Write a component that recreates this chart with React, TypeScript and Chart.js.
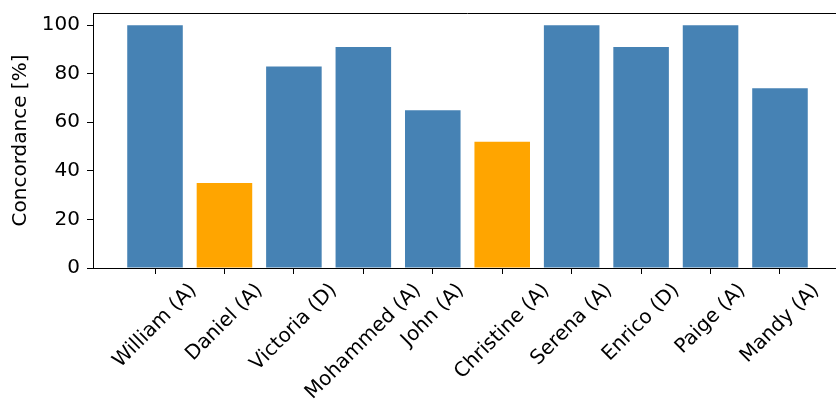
import React, { useEffect, useRef } from "react";
import { Chart, registerables } from "chart.js";

Chart.register(...registerables);

const categories = [
  "William (A)",
  "Daniel (A)",
  "Victoria (D)",
  "Mohammed (A)",
  "John (A)",
  "Christine (A)",
  "Serena (A)",
  "Enrico (D)",
  "Paige (A)",
  "Mandy (A)",
];
const concordance = [100, 35, 83, 91, 65, 52, 100, 91, 100, 74];
const highlighted = [false, true, false, false, false, true, false, false, false, false];
const yTicks = [0, 20, 40, 60, 80, 100];
const yLabel = "Concordance [%]";

const BLUE = "#4682B4";
const ORANGE = "#FFA500";
const FONT = '"DejaVu Sans", sans-serif';
const FONT_SIZE = 20;

export default function App() {
  const ref = useRef<HTMLCanvasElement | null>(null);

  useEffect(() => {
    if (!ref.current) return;
    const labelPlugin = {
      id: "customLabels",
      afterDraw(chart: any) {
        const ctx = chart.ctx;
        const area = chart.chartArea;
        const xs = chart.scales.x;
        ctx.save();
        // top spine
        ctx.strokeStyle = "#000";
        ctx.lineWidth = 1;
        ctx.beginPath();
        ctx.moveTo(area.left, Math.round(area.top) + 0.5);
        ctx.lineTo(area.right, Math.round(area.top) + 0.5);
        ctx.stroke();
        // rotated x labels, centered on tick like matplotlib (ha=center)
        ctx.font = `${FONT_SIZE}px ${FONT}`;
        ctx.fillStyle = "#000";
        ctx.textAlign = "center";
        ctx.textBaseline = "middle";
        const h = FONT_SIZE * 1.166;
        const top = area.bottom + 11;
        categories.forEach((lab, i) => {
          const x = xs.getPixelForValue(i);
          const w = ctx.measureText(lab).width;
          const s = (w + h) * Math.SQRT1_2;
          ctx.save();
          ctx.translate(x, top + s / 2);
          ctx.rotate(-Math.PI / 4);
          ctx.fillText(lab, 0, 0);
          ctx.restore();
        });
        ctx.restore();
      },
    };

    const chart = new Chart(ref.current, {
      type: "bar",
      data: {
        datasets: [
          {
            data: concordance.map((v, i) => ({ x: i, y: v })),
            backgroundColor: highlighted.map((h) => (h ? ORANGE : BLUE)),
            borderWidth: 0,
            barPercentage: 0.8,
            categoryPercentage: 1.0,
          },
        ],
      },
      options: {
        animation: false,
        responsive: false,
        maintainAspectRatio: false,
        layout: { padding: { left: 0, top: 13, right: 8, bottom: 0 } },
        plugins: { legend: { display: false }, tooltip: { enabled: false } },
        scales: {
          x: {
            type: "linear",
            offset: false,
            min: -0.893,
            max: categories.length - 1 + 0.893,
            afterBuildTicks: (scale: any) => {
              scale.ticks = categories.map((_, i) => ({ value: i }));
            },
            afterFit: (scale: any) => {
              scale.height = 132;
              scale.paddingLeft = 0;
              scale.paddingRight = 0;
            },
            ticks: { display: false },
            grid: {
              display: true,
              offset: false,
              drawOnChartArea: false,
              drawTicks: true,
              tickLength: 6,
              tickColor: "#000",
              tickWidth: 1,
            },
            border: { display: true, color: "#000", width: 1 },
          },
          y: {
            type: "linear",
            min: 0,
            max: 105,
            afterBuildTicks: (scale: any) => {
              scale.ticks = yTicks.map((v) => ({ value: v }));
            },
            afterFit: (scale: any) => {
              scale.width = 93;
              scale.paddingTop = 0;
              scale.paddingBottom = 0;
            },
            ticks: {
              color: "#000",
              font: { family: FONT, size: FONT_SIZE },
              padding: 7,
            },
            grid: {
              display: true,
              drawOnChartArea: false,
              drawTicks: true,
              tickLength: 6,
              tickColor: "#000",
              tickWidth: 1,
            },
            border: { display: true, color: "#000", width: 1 },
            title: {
              display: true,
              text: yLabel,
              color: "#000",
              font: { family: FONT, size: FONT_SIZE, lineHeight: 1.2 },
              padding: { top: 9, bottom: 0 },
            },
          },
        },
      },
      plugins: [labelPlugin],
    } as any);
    return () => chart.destroy();
  }, []);

  return (
    <div
      style={{
        position: "fixed",
        left: 0,
        top: 0,
        width: 836,
        height: 400,
        overflow: "hidden",
        background: "#fff",
      }}
    >
      <canvas ref={ref} width={850} height={400} style={{ display: "block" }} />
    </div>
  );
}
